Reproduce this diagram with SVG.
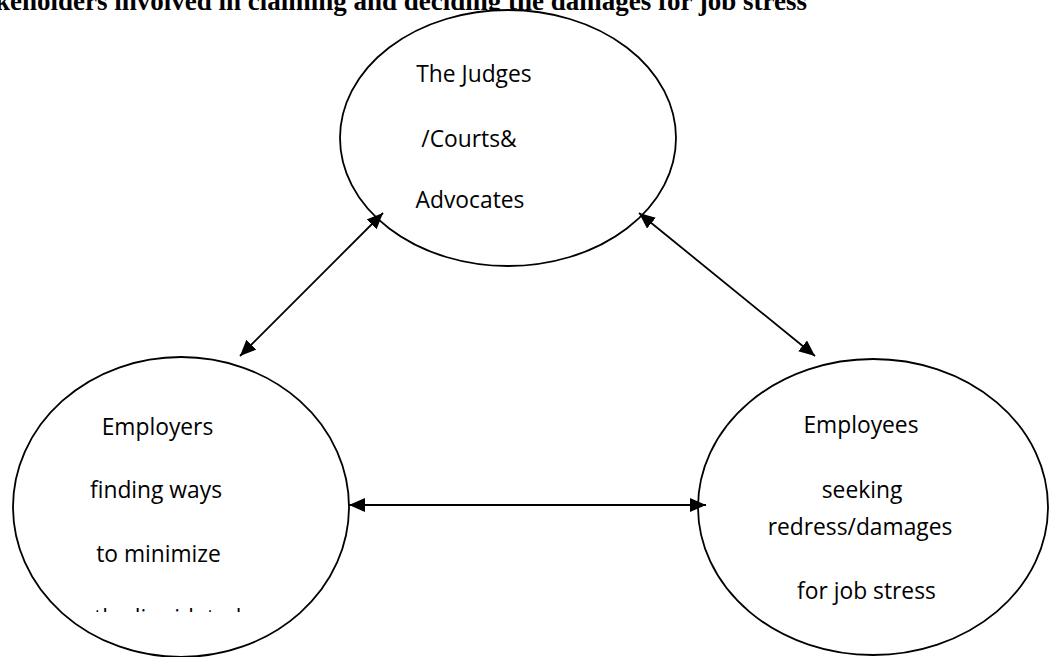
<svg xmlns="http://www.w3.org/2000/svg" width="1050" height="657" viewBox="0 0 1050 657">
<style>
.node ellipse{fill:#fff;stroke:#000;stroke-width:1.8}
.lbl{font-family:"Open Sans","Noto Sans",sans-serif;font-size:22.8px;fill:#000;text-anchor:middle}
.title{font-family:"Liberation Serif","Times New Roman",serif;font-weight:bold;font-size:27px;fill:#000}
.conn line{stroke:#000;stroke-width:1.8;marker-start:url(#ah);marker-end:url(#ah)}
</style>
<defs>
<marker id="ah" markerUnits="userSpaceOnUse" markerWidth="17" markerHeight="14" refX="16" refY="7" orient="auto-start-reverse">
<path d="M0,0 L16,7 L0,14 z" fill="#000"/>
</marker>
<clipPath id="cut"><rect x="60" y="607" width="250" height="5"/></clipPath>
</defs>
<rect width="1050" height="657" fill="#fff"/>
<text class="title" x="807" y="10" text-anchor="end">Stakeholders involved in claiming and deciding the damages for job stress</text>
<g id="judges" class="node">
<ellipse cx="508" cy="138" rx="168" ry="128"/>
<text class="lbl" x="474" y="82">The Judges</text>
<text class="lbl" x="469" y="147">/Courts&amp;</text>
<text class="lbl" x="470" y="208">Advocates</text>
</g>
<g id="employers" class="node">
<ellipse cx="181" cy="507" rx="168" ry="150"/>
<text class="lbl" x="157.5" y="435">Employers</text>
<text class="lbl" x="156" y="498">finding ways</text>
<text class="lbl" x="158.5" y="562">to minimize</text>
<text class="lbl" x="94" y="626" style="text-anchor:start" clip-path="url(#cut)">the liquidated</text>
</g>
<g id="employees" class="node">
<ellipse cx="873" cy="507" rx="175" ry="148"/>
<text class="lbl" x="861" y="433">Employees</text>
<text class="lbl" x="862" y="498">seeking</text>
<text class="lbl" x="860" y="535">redress/damages</text>
<text class="lbl" x="866.5" y="599">for job stress</text>
</g>
<g id="connectors" class="conn">
<line x1="240" y1="356" x2="383" y2="213"/>
<line x1="639" y1="213" x2="815" y2="356"/>
<line x1="349" y1="505" x2="706" y2="505"/>
</g>
</svg>
